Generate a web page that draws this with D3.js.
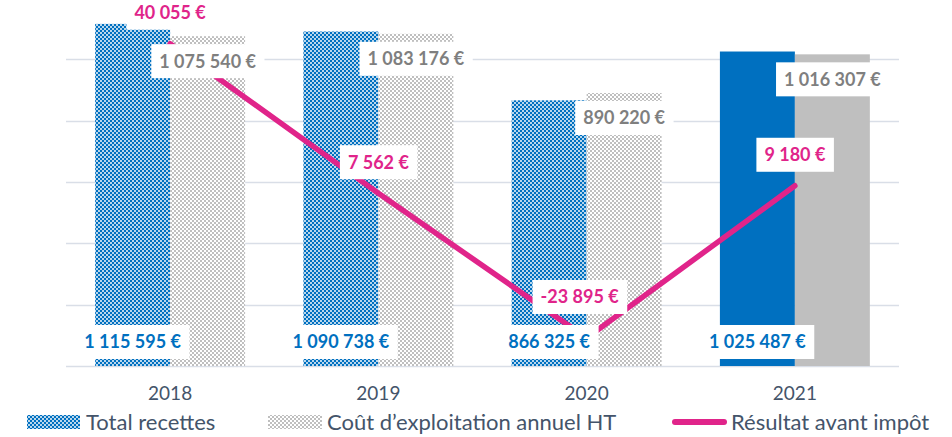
<!DOCTYPE html>
<html>
<head>
<meta charset="utf-8">
<script src="https://cdn.jsdelivr.net/npm/d3@7/dist/d3.min.js"></script>
<style>
  html, body { margin: 0; padding: 0; background: #fff; }
  svg { display: block; }
  text { font-family: Lato, "Open Sans", "Noto Sans", sans-serif; }
</style>
</head>
<body>
<svg id="chart" width="952" height="437"></svg>
<script>
// ---- Data ----
const years = ["2018", "2019", "2020", "2021"];
const recettes = [1115595, 1090738, 866325, 1025487];
const couts = [1075540, 1083176, 890220, 1016307];
const resultat = [40055, 7562, -23895, 9180];
const hatched = [true, true, true, false];
const leftTicks = [0, 200000, 400000, 600000, 800000, 1000000, 1200000];
const leftDomain = [0, 1200000];
const rightDomain = [-30000, 50000];
const seriesNames = ["Total recettes", "Coût d\u2019exploitation annuel HT", "Résultat avant impôt"];

// ---- Styles ----
const BLUE = "#0070C0", GREY = "#BFBFBF", PINK = "#E0248A";
const GREY_TXT = "#7F7F7F", AXIS_TXT = "#44546A", GRID = "#D9DEE7";

const svg = d3.select("#chart");
const plot = { left: 66, right: 899, top: -2, bottom: 366 };

const fr = d3.formatLocale({ decimal: ",", thousands: " ", grouping: [3], currency: ["", " €"], minus: "-" });
const fmt = v => fr.format(",.0f")(v) + " €";

const x = d3.scaleBand().domain(years).range([plot.left, plot.right]).paddingInner(0.28).paddingOuter(0.14);
const sub = d3.scaleBand().domain(["r", "c"]).range([0, x.bandwidth()]);
const yL = d3.scaleLinear().domain(leftDomain).range([plot.bottom, plot.top]);
const yR = d3.scaleLinear().domain(rightDomain).range([plot.bottom, plot.top]);

// ---- Patterns (checkerboards) ----
const defs = svg.append("defs");
const pg = defs.append("pattern").attr("id", "patGrey").attr("patternUnits", "userSpaceOnUse")
  .attr("width", 4).attr("height", 4);
pg.append("rect").attr("width", 4).attr("height", 4).attr("fill", "#fff");
pg.append("rect").attr("x", 0).attr("y", 0).attr("width", 2).attr("height", 2).attr("fill", GREY);
pg.append("rect").attr("x", 2).attr("y", 2).attr("width", 2).attr("height", 2).attr("fill", GREY);

const pb = defs.append("pattern").attr("id", "patBlue").attr("patternUnits", "userSpaceOnUse")
  .attr("width", 4).attr("height", 4);
pb.append("rect").attr("width", 4).attr("height", 4).attr("fill", BLUE);
pb.append("rect").attr("x", 0.15).attr("y", 0.15).attr("width", 1.7).attr("height", 1.7).attr("fill", "#fff");
pb.append("rect").attr("x", 2.15).attr("y", 2.15).attr("width", 1.7).attr("height", 1.7).attr("fill", "#fff");

// ---- Gridlines ----
svg.append("g").selectAll("line").data(leftTicks).join("line")
  .attr("x1", plot.left).attr("x2", plot.right)
  .attr("y1", d => Math.round(yL(d)) + 0.5).attr("y2", d => Math.round(yL(d)) + 0.5)
  .attr("stroke", GRID).attr("stroke-width", 1.5);

// ---- Bars ----
const g = svg.append("g");
years.forEach((yr, i) => {
  const x0 = x(yr);
  g.append("rect")
    .attr("x", x0 + sub("r")).attr("width", sub.bandwidth())
    .attr("y", yL(recettes[i])).attr("height", yL(0) - yL(recettes[i]))
    .attr("fill", hatched[i] ? "url(#patBlue)" : BLUE);
  g.append("rect")
    .attr("x", x0 + sub("c")).attr("width", sub.bandwidth())
    .attr("y", yL(couts[i])).attr("height", yL(0) - yL(couts[i]))
    .attr("fill", hatched[i] ? "url(#patGrey)" : GREY);
});

// ---- Line ----
const cx = yr => x(yr) + x.bandwidth() / 2;
const line = d3.line().x((d, i) => cx(years[i])).y(d => yR(d));
svg.append("path").datum(resultat)
  .attr("d", line).attr("fill", "none").attr("stroke", PINK)
  .attr("stroke-width", 5.5).attr("stroke-linecap", "round").attr("stroke-linejoin", "round");

// ---- Data labels ----
const lab = svg.append("g");
function label(txt, cxp, cyp, color) {
  const grp = lab.append("g");
  const t = grp.append("text").attr("x", cxp).attr("y", cyp).attr("dy", "0.36em")
    .attr("text-anchor", "middle").attr("font-size", 18).attr("font-weight", 700)
    .attr("fill", color).text(txt);
  const bb = t.node().getBBox();
  grp.insert("rect", "text").attr("x", bb.x - 8).attr("y", cyp - 17)
    .attr("width", bb.width + 16).attr("height", 34).attr("fill", "#fff");
}
years.forEach((yr, i) => {
  label(fmt(couts[i]), x(yr) + sub("c") + sub.bandwidth() / 2, yL(couts[i]) + 25, GREY_TXT);
  label(fmt(recettes[i]), x(yr) + sub("r") + sub.bandwidth() / 2, yL(0) - 24, BLUE);
});
years.forEach((yr, i) => {
  const py = yR(resultat[i]);
  const ly = Math.min(py - 31, 297);
  const lx = resultat[i] < 0 ? cx(yr) - 7 : cx(yr);
  label(fmt(resultat[i]), lx, ly, PINK);
});

// ---- X axis labels ----
svg.append("g").selectAll("text").data(years).join("text")
  .attr("x", d => cx(d)).attr("y", 393).attr("dy", "0.36em")
  .attr("text-anchor", "middle").attr("font-size", 19).attr("fill", AXIS_TXT).text(d => d);

// ---- Legend ----
const leg = svg.append("g");
const legY = 422;
leg.append("rect").attr("x", 27).attr("y", legY - 7).attr("width", 53).attr("height", 14).attr("fill", "url(#patBlue)");
leg.append("text").attr("x", 86).attr("y", legY).attr("dy", "0.36em").attr("font-size", 22).attr("fill", AXIS_TXT).text(seriesNames[0]);
leg.append("rect").attr("x", 268).attr("y", legY - 7).attr("width", 54).attr("height", 14).attr("fill", "url(#patGrey)");
leg.append("text").attr("x", 327).attr("y", legY).attr("dy", "0.36em").attr("font-size", 22).attr("fill", AXIS_TXT).text(seriesNames[1]);
leg.append("line").attr("x1", 675).attr("x2", 724).attr("y1", legY).attr("y2", legY)
  .attr("stroke", PINK).attr("stroke-width", 6).attr("stroke-linecap", "round");
leg.append("text").attr("x", 731).attr("y", legY).attr("dy", "0.36em").attr("font-size", 22).attr("fill", AXIS_TXT).text(seriesNames[2]);
</script>
</body>
</html>
